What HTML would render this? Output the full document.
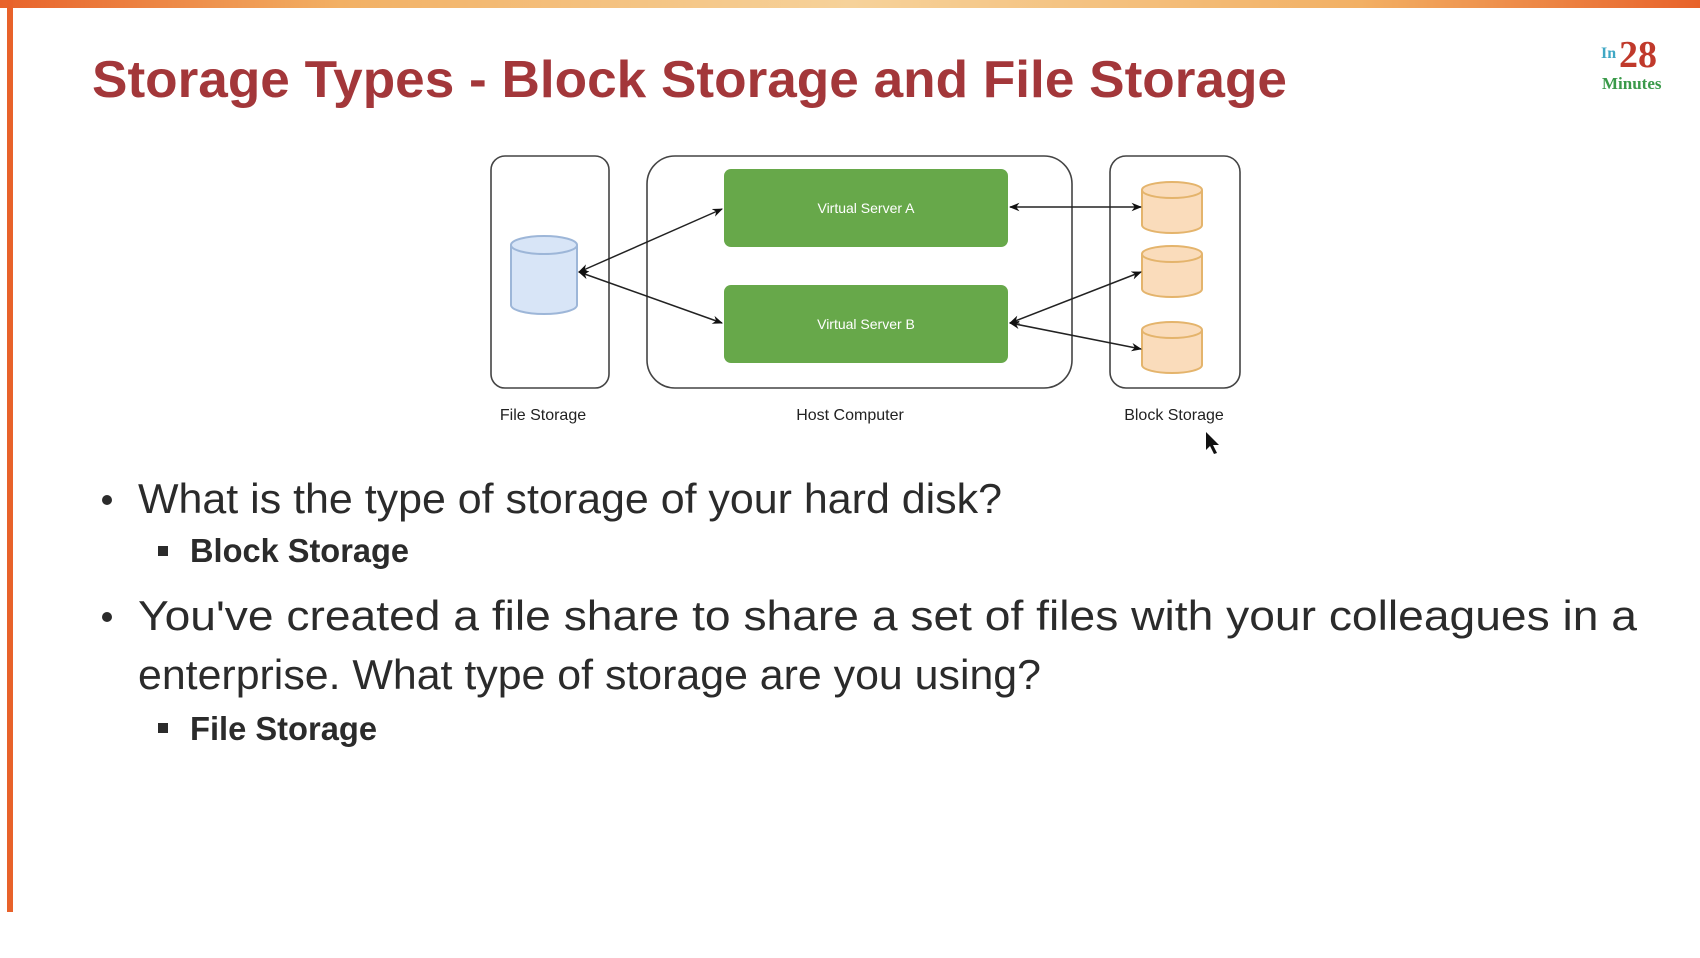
<!DOCTYPE html>
<html><head><meta charset="utf-8"><style>
html,body{margin:0;padding:0;background:#fff;}
svg{display:block;}
</style></head><body>
<svg width="1700" height="958" viewBox="0 0 1700 958" xmlns="http://www.w3.org/2000/svg">
<defs>
<linearGradient id="tg" x1="0" x2="1" y1="0" y2="0">
<stop offset="0" stop-color="#e8622a"/><stop offset="0.2" stop-color="#f2b064"/><stop offset="0.5" stop-color="#f6d29a"/><stop offset="0.8" stop-color="#f2b064"/><stop offset="1" stop-color="#e8622a"/>
</linearGradient>
<marker id="ar" viewBox="0 0 10 10" refX="9" refY="5" markerWidth="7" markerHeight="7" orient="auto-start-reverse"><path d="M0,1 L10,5 L0,9 L3,5 z" fill="#111"/></marker>
</defs>
<rect x="0" y="0" width="1700" height="8" fill="url(#tg)"/>
<rect x="7" y="0" width="6" height="912" fill="#e8622a"/>
<text x="92" y="97" font-family="Liberation Sans, sans-serif" font-weight="bold" font-size="52" fill="#a3373a" textLength="1195" lengthAdjust="spacingAndGlyphs">Storage Types - Block Storage and File Storage</text>
<text x="1601" y="58" font-family="Liberation Serif, serif" font-weight="bold" font-size="16" fill="#3fa7c4">In</text>
<text x="1619" y="67" font-family="Liberation Serif, serif" font-weight="bold" font-size="38" fill="#c0392b">28</text>
<text x="1602" y="89" font-family="Liberation Serif, serif" font-weight="bold" font-size="17" fill="#3a9a4a">Minutes</text>

<g fill="none" stroke="#444" stroke-width="1.6">
<rect x="491" y="156" width="118" height="232" rx="14"/>
<rect x="647" y="156" width="425" height="232" rx="28"/>
<rect x="1110" y="156" width="130" height="232" rx="16"/>
</g>
<rect x="724" y="169" width="284" height="78" rx="7" fill="#67a84a"/>
<rect x="724" y="285" width="284" height="78" rx="7" fill="#67a84a"/>
<g font-family="Liberation Sans, sans-serif" font-size="14" fill="#fff" text-anchor="middle">
<text x="866" y="213">Virtual Server A</text>
<text x="866" y="329">Virtual Server B</text>
</g>
<g stroke="#9db6d8" stroke-width="2" fill="#d8e5f7">
<path d="M511,245 v60 a33,9 0 0 0 66,0 v-60"/>
<ellipse cx="544" cy="245" rx="33" ry="9"/>
</g>
<g stroke="#e4b46c" stroke-width="2" fill="#fadcbb">
<path d="M1142,190 v35 a30,8 0 0 0 60,0 v-35"/><ellipse cx="1172" cy="190" rx="30" ry="8"/>
<path d="M1142,254 v35 a30,8 0 0 0 60,0 v-35"/><ellipse cx="1172" cy="254" rx="30" ry="8"/>
<path d="M1142,330 v35 a30,8 0 0 0 60,0 v-35"/><ellipse cx="1172" cy="330" rx="30" ry="8"/>
</g>
<g stroke="#222" stroke-width="1.5" fill="none" marker-start="url(#ar)" marker-end="url(#ar)">
<line x1="579" y1="272" x2="722" y2="209"/>
<line x1="579" y1="272" x2="722" y2="323"/>
<line x1="1010" y1="207" x2="1141" y2="207"/>
<line x1="1010" y1="323" x2="1141" y2="272"/>
<line x1="1010" y1="323" x2="1141" y2="349"/>
</g>
<g font-family="Liberation Sans, sans-serif" font-size="16" fill="#222" text-anchor="middle">
<text x="543" y="420">File Storage</text>
<text x="850" y="420">Host Computer</text>
<text x="1174" y="420">Block Storage</text>
</g>
<path d="M1206,432 l0,18 l4,-4 l4,8 l3,-1 l-4,-8 l6,0 z" fill="#111"/>

<g font-family="Liberation Sans, sans-serif" fill="#2b2b2b">
<circle cx="107" cy="500" r="5"/>
<text x="138" y="513" font-size="42" textLength="864" lengthAdjust="spacingAndGlyphs">What is the type of storage of your hard disk?</text>
<rect x="158" y="546" width="10" height="10"/>
<text x="190" y="562" font-size="33" font-weight="bold" textLength="219" lengthAdjust="spacingAndGlyphs">Block Storage</text>
<circle cx="107" cy="617" r="5"/>
<text x="138" y="630" font-size="42" textLength="1499" lengthAdjust="spacingAndGlyphs">You've created a file share to share a set of files with your colleagues in a</text>
<text x="138" y="689" font-size="42" textLength="903" lengthAdjust="spacingAndGlyphs">enterprise. What type of storage are you using?</text>
<rect x="158" y="723" width="10" height="10"/>
<text x="190" y="740" font-size="33" font-weight="bold" textLength="187" lengthAdjust="spacingAndGlyphs">File Storage</text>
</g>
</svg>
</body></html>
